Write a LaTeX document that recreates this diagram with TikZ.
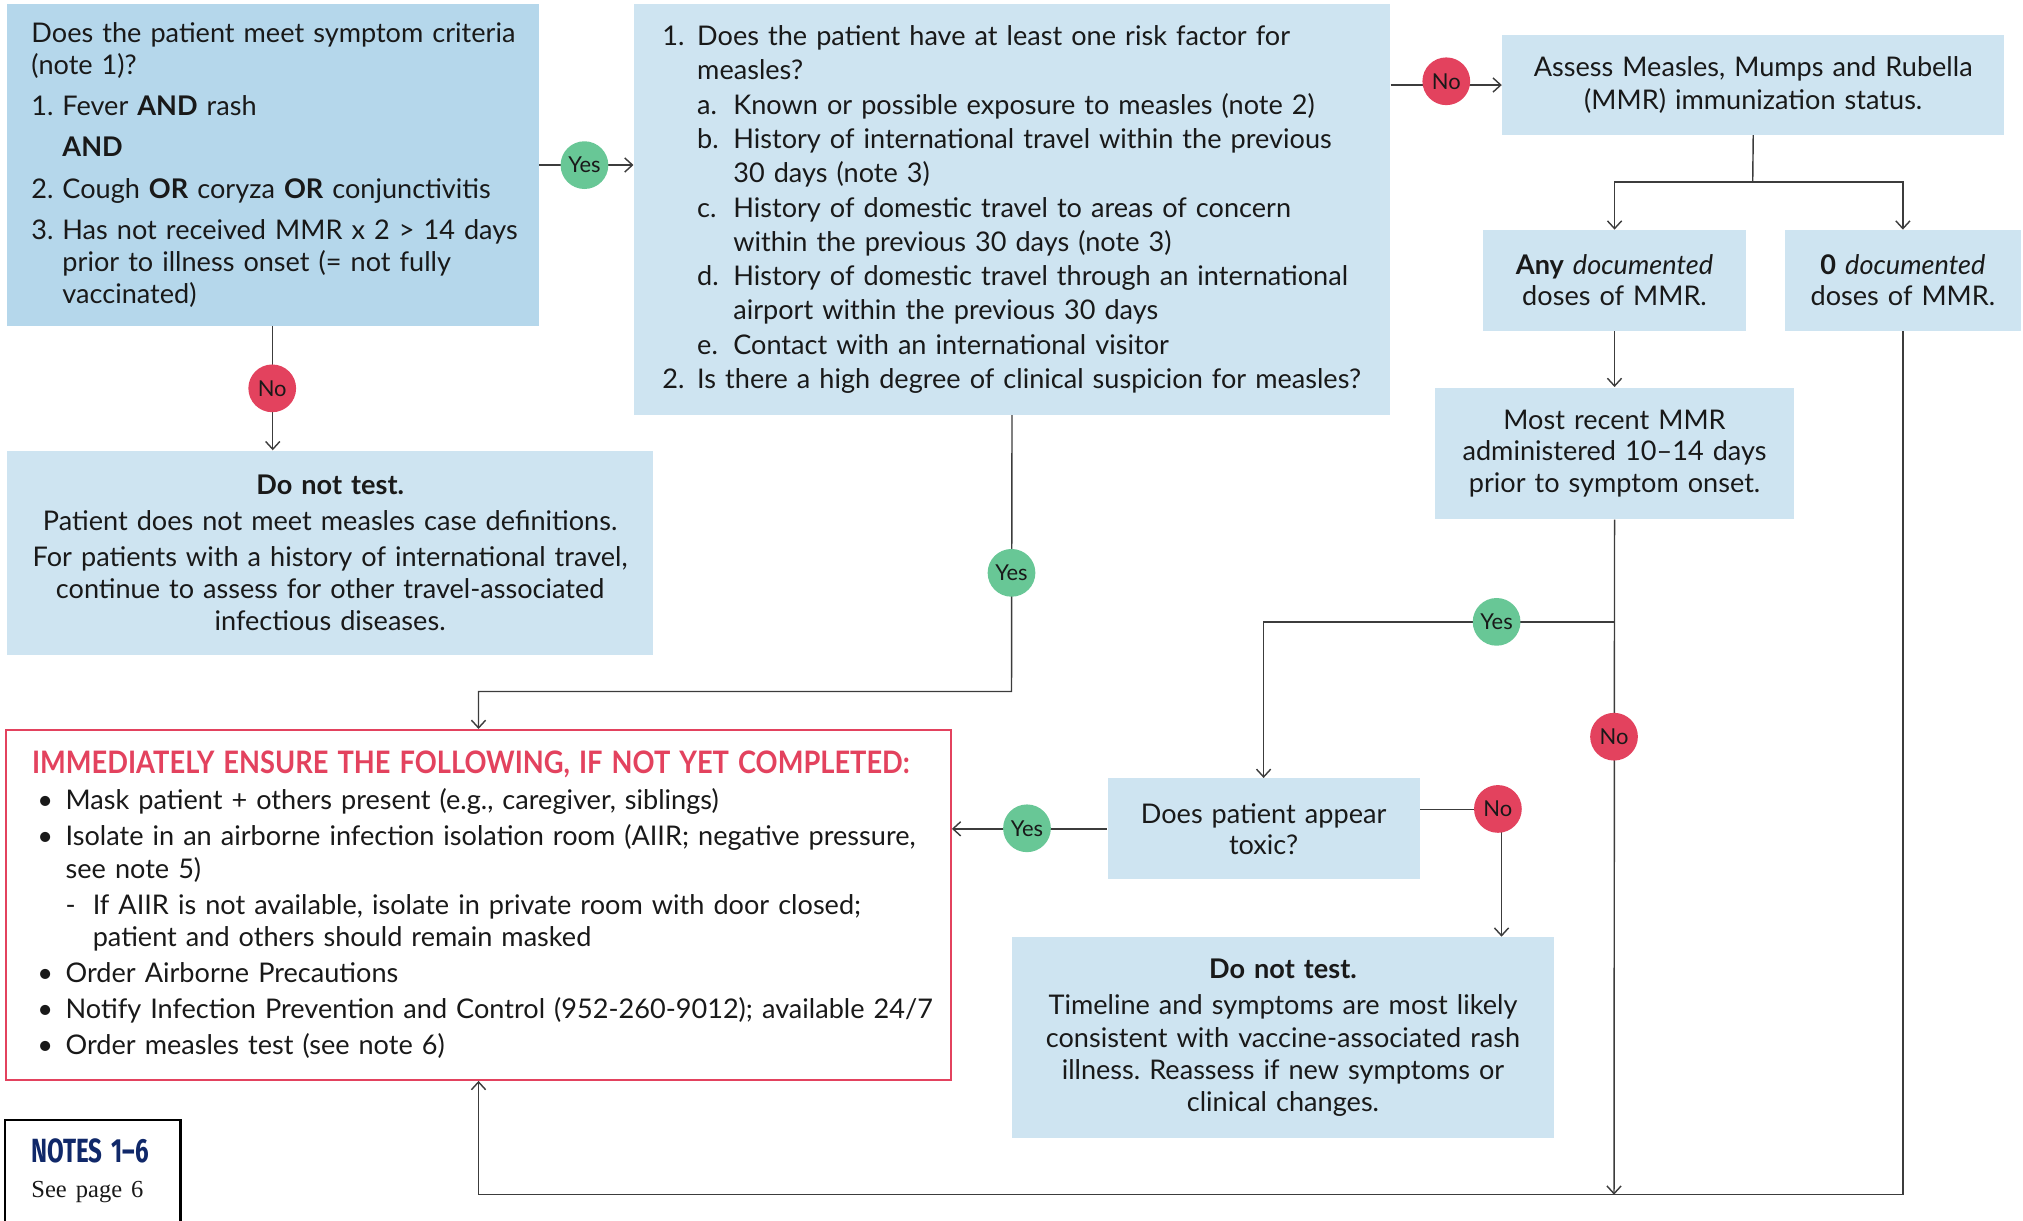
\documentclass[tikz,border=0pt]{standalone}
\usepackage{fontspec}
\setmainfont{Lato}
\newfontfamily\headfont[FakeStretch=0.88]{Lato}
\newfontfamily\notesfont[FakeStretch=0.72]{Fira Sans}
\newfontfamily\serfont{Liberation Serif}
\usetikzlibrary{arrows.meta}
\definecolor{boxd}{RGB}{181,215,235}
\definecolor{boxc}{RGB}{206,228,241}
\definecolor{greenc}{RGB}{104,199,150}
\definecolor{redc}{RGB}{227,66,94}
\definecolor{linec}{RGB}{60,60,60}
\definecolor{txt}{RGB}{25,25,25}
\definecolor{navy}{RGB}{16,40,105}
\newcommand\lab[2][12pt]{\makebox[#1][l]{#2}}
\newcommand\ind[1][12pt]{\hspace*{#1}}
\newcommand\bul{\makebox[13pt][l]{\hspace{2pt}\textbullet}}
\frenchspacing
\begin{document}
\begin{tikzpicture}[x=0.5pt,y=-0.5pt,
  font=\fontsize{10.5}{12.5}\selectfont,
  box/.style={fill=boxc, anchor=north west, inner ysep=0pt, text=txt},
  conn/.style={draw=linec, line width=0.55pt},
  arr/.style={conn, -{Straight Barb[length=3pt,width=5.5pt]}},
  yesc/.style={circle, fill=greenc, minimum size=18.5pt, inner sep=0pt, text=txt, font=\fontsize{8.5}{9}\selectfont},
  noc/.style={circle, fill=redc, minimum size=18.5pt, inner sep=0pt, text=txt, font=\fontsize{8.5}{9}\selectfont}]
\useasboundingbox (0,0) rectangle (1568,946);

\node[box, fill=boxd, align=left, minimum width=206pt, minimum height=124.5pt, inner xsep=9.5pt, text width=187pt] (b1) at (5,3) {%
\mbox{Does the patient meet symptom criteria}\\
(note 1)?\\[3.5pt]
\lab{1.}Fever \textbf{AND} rash\\[3.5pt]
\ind\textbf{AND}\\[3.5pt]
\mbox{\lab{2.}Cough \textbf{OR} coryza \textbf{OR} conjunctivitis}\\[3.5pt]
\mbox{\lab{3.}Has not received MMR x 2 > 14 days}\\
\ind prior to illness onset (= not fully\\
\ind vaccinated)};

\node[box, align=left, minimum width=293pt, minimum height=159pt, inner xsep=11pt, text width=271pt, font=\fontsize{10.5}{13.3}\selectfont] (b2) at (491,3) {%
\mbox{\lab[13.5pt]{1.}Does the patient have at least one risk factor for}\\
\ind[13.5pt]measles?\\
\mbox{\ind[13.5pt]\lab[14pt]{a.}Known or possible exposure to measles (note 2)}\\
\mbox{\ind[13.5pt]\lab[14pt]{b.}History of international travel within the previous}\\
\ind[27.5pt]30 days (note 3)\\
\mbox{\ind[13.5pt]\lab[14pt]{c.}History of domestic travel to areas of concern}\\
\ind[27.5pt]within the previous 30 days (note 3)\\
\mbox{\ind[13.5pt]\lab[14pt]{d.}History of domestic travel through an international}\\
\ind[27.5pt]airport within the previous 30 days\\
\ind[13.5pt]\lab[14pt]{e.}Contact with an international visitor\\
\mbox{\lab[13.5pt]{2.}Is there a high degree of clinical suspicion for measles?}};

\node[box, align=center, minimum width=194.5pt, minimum height=38.5pt, inner xsep=2pt, text width=190.5pt] (b3) at (1164,27) {Assess Measles, Mumps and Rubella\\(MMR) immunization status.};

\node[box, align=center, minimum width=102pt, minimum height=39pt, inner xsep=2pt, text width=98pt, font=\fontsize{10.5}{12}\selectfont] (b4) at (1149,178) {\textbf{Any} \textit{documented}\\doses of MMR.};

\node[box, align=center, minimum width=91.5pt, minimum height=39pt, inner xsep=2pt, text width=87.5pt, font=\fontsize{10.5}{12}\selectfont] (b5) at (1383,178) {\textbf{0} \textit{documented}\\doses of MMR.};

\node[box, align=center, minimum width=139pt, minimum height=51pt, inner xsep=2pt, text width=135pt, font=\fontsize{10.5}{12.25}\selectfont] (b6) at (1112,300) {Most recent MMR\\administered 10--14 days\\prior to symptom onset.};

\node[box, align=center, minimum width=121pt, minimum height=39pt, inner xsep=2pt, text width=117pt, font=\fontsize{10.5}{12}\selectfont] (tox) at (858,603) {Does patient appear\\toxic?};

\node[box, align=center, minimum width=250.5pt, minimum height=79pt, inner xsep=2pt, text width=246.5pt] (dnt1) at (5,349) {%
\textbf{Do not test.}\\[1.5pt]
Patient does not meet measles case definitions.\\[1.5pt]
For patients with a history of international travel,\\
continue to assess for other travel-associated\\
infectious diseases.};

\node[box, align=center, minimum width=210pt, minimum height=78pt, inner xsep=2pt, text width=206pt] (dnt2) at (784,726) {%
\textbf{Do not test.}\\[1.5pt]
Timeline and symptoms are most likely\\
consistent with vaccine-associated rash\\
illness. Reassess if new symptoms or\\
clinical changes.};

\node[box, fill=white, draw=redc, line width=0.9pt, align=left, minimum width=366pt, minimum height=135.5pt, inner xsep=10pt, text width=346pt] (red) at (4,565) {%
\mbox{\headfont\bfseries\color{redc}\fontsize{12}{12.5}\selectfont IMMEDIATELY ENSURE THE FOLLOWING, IF NOT YET COMPLETED:}\\[1.5pt]
\mbox{\bul Mask patient + others present (e.g., caregiver, siblings)}\\[1.5pt]
\mbox{\bul Isolate in an airborne infection isolation room (AIIR; negative pressure,}\\
\ind[13pt]see note 5)\\[1.5pt]
\mbox{\ind[13pt]\lab[10.5pt]{-}If AIIR is not available, isolate in private room with door closed;}\\
\ind[23.5pt]patient and others should remain masked\\[1.5pt]
\bul Order Airborne Precautions\\[1.5pt]
\mbox{\bul Notify Infection Prevention and Control (952-260-9012); available 24/7}\\[1.5pt]
\bul Order measles test (see note 6)};

\node[box, fill=none, align=left, minimum width=67.5pt, minimum height=39pt, inner xsep=10pt, text width=47.5pt] (notes) at (4,868) {%
\mbox{\notesfont\bfseries\color{navy}\fontsize{13}{13}\selectfont NOTES 1–6}\\[1pt]
\mbox{\serfont\fontsize{9.5}{12}\selectfont See page 6}};
\draw[line width=0.9pt] (notes.south west) |- (notes.north east) -- (notes.south east);

% connectors
\draw[arr] (b1.east) -- (b1.east -| b2.west);
\draw[arr] (b3.west -| b2.east) -- (b3.west);
\coordinate (split) at (1358.5,141);
\draw[conn] (b3.south) -- (split);
\draw[arr] (split) -| (b4.north);
\draw[arr] (split) -| (b5.north);
\draw[arr] (b4.south) -- (b6.north);
\coordinate (bot) at (1251,926);
\draw[arr] (b6.south) -- (bot);
\coordinate (br) at (1251,482);
\draw[arr] (br) -| (tox.north);
\draw[arr] (tox.west) -- (tox.west -| red.east);
\draw[arr] ([yshift=7.5pt]tox.east) -| ([xshift=-20.5pt]dnt2.north east);
\draw[arr] (b5.south) -- (b5.south |- bot) -| (red.south);
\coordinate (c2) at (784,536);
\draw[arr] (b2.south) -- (c2) -| (red.north);
\draw[arr] (b1.south) -- (b1.south |- dnt1.north);

% decision labels
\node[yesc] (y1) at (453,128) {Yes};
\node[noc] (n1) at (1121,63) {No};
\node[noc] (n2) at (211,301) {No};
\node[yesc] (y2) at (784,444) {Yes};
\node[yesc] (y3) at (1160,482) {Yes};
\node[noc] (n3) at (1251,571) {No};
\node[yesc] (y4) at (796,642) {Yes};
\node[noc] (n4) at (1161,627) {No};
\end{tikzpicture}
\end{document}
